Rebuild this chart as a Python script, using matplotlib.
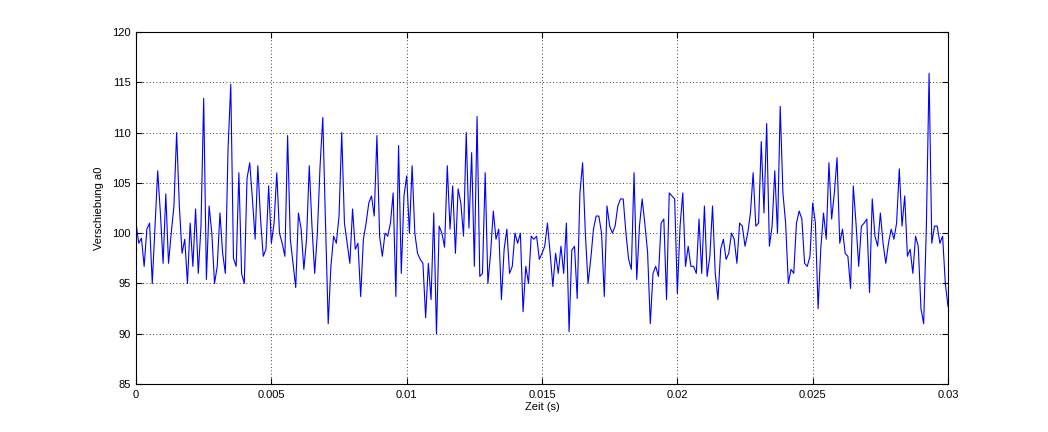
import numpy as np
import matplotlib
matplotlib.use('Agg')
import matplotlib.pyplot as plt

# DATA
# ----
# Sample spacing of the read-off series (s)
dt = 0.0001

# Verschiebung a0 in eight chunks
a0_part1 = [101, 99, 99.5, 96.7, 100.4, 101, 95, 100.7, 106.2, 102,
            97, 103.9, 97, 100, 102.7, 110, 102.7, 98, 99.4, 95,
            101, 96.7, 102.4, 96, 100.7, 113.4, 95.4, 102.7, 100, 95,
            96.7, 102, 98, 96, 108.4, 114.8, 97.5, 96.7]
a0_part2 = [106, 96, 95, 105.4, 107, 103.4, 99.4, 106.7, 101.4, 97.7,
            98.4, 104.7, 99, 101, 106, 100, 99, 97.7, 109.7, 99.4,
            97, 94.6, 102, 100.4, 96.4, 99.4, 106.7, 100.7, 96, 100,
            106.7, 111.5, 101, 91, 96.7, 99.7, 99, 101.7]
a0_part3 = [110, 101, 99, 97, 102.4, 98.4, 99, 93.7, 99.4, 101,
            103, 103.7, 101.7, 109.7, 99.7, 97.7, 100, 99.7, 101, 104,
            93.7, 108.7, 96, 103.7, 105.7, 100, 106.7, 100, 98, 97.4,
            97, 91.6, 97, 93.4, 102, 90, 100.7]
a0_part4 = [100, 98.6, 106.7, 100.4, 104.7, 98, 104.4, 103, 99.7, 110,
            100.5, 108, 96.7, 111.6, 95.7, 96, 106, 95, 98, 102.2,
            99.4, 100.4, 93.4, 98.4, 100.4, 96, 96.7, 100, 99, 100,
            92.2, 96.7, 95, 99.7, 99.4, 99.7, 97.4, 98]
a0_part5 = [98.7, 101, 98, 94.7, 98, 96, 98.7, 96, 101, 90.2,
            98.3, 98.7, 93.5, 104, 107, 100, 95, 97.4, 100.4, 101.7,
            101.7, 100, 93.7, 102.7, 100.7, 100, 100.7, 102.7, 103.4, 103.4,
            100, 97.4, 96.4, 106, 95.4, 100.7, 103.4, 100.9]
a0_part6 = [98.1, 91, 96, 96.7, 95.7, 101, 101.4, 93.4, 104, 103.7,
            103.4, 94, 100.7, 104, 96.7, 98.7, 96.7, 96.7, 96, 101.4,
            96, 102.7, 95.7, 97.7, 102.7, 96, 93.4, 98.4, 99.4, 97.4,
            98, 100, 99.4, 97, 101, 100.7, 98.7, 100]
a0_part7 = [102, 106, 100.7, 101, 109.1, 102, 110.9, 98.7, 100.7, 106.2,
            100, 112.6, 104, 101, 95, 96.4, 96, 101, 102.2, 101.4,
            97, 96.7, 97.7, 103, 101, 92.5, 98.5, 102, 99.4, 107,
            101.4, 104, 107.5, 99, 100.4, 98, 97.7]
a0_part8 = [94.5, 104.7, 101, 96.7, 100.7, 101, 101.4, 94.1, 103.4, 99.7,
            98.7, 102, 99, 97, 99, 100.4, 99.4, 101, 106.4, 100.7,
            103.7, 97.7, 98.4, 96, 99.7, 98.7, 92.5, 91, 100.7, 115.9,
            99, 100.7, 100.7, 99, 99.7, 95, 92.7]

a0 = np.array(a0_part1 + a0_part2 + a0_part3 + a0_part4
              + a0_part5 + a0_part6 + a0_part7 + a0_part8)
zeit = np.arange(len(a0)) * dt

x_ticks = [0, 0.005, 0.01, 0.015, 0.02, 0.025, 0.03]
x_tick_labels = ['0', '0.005', '0.01', '0.015', '0.02', '0.025', '0.03']
y_ticks = [85, 90, 95, 100, 105, 110, 115, 120]

# PLOT
# ----
plt.rcParams['font.family'] = ['Liberation Sans', 'DejaVu Sans']
plt.rcParams['font.size'] = 8

fig = plt.figure(figsize=(10.48, 4.32), dpi=100)
ax = fig.add_axes([0.1298, 0.111, 0.7748, 0.815])

ax.plot(zeit, a0, color='#0000FF', linewidth=0.8)

ax.set_xlim(0, 0.03)
ax.set_ylim(85, 120)
ax.set_xticks(x_ticks)
ax.set_xticklabels(x_tick_labels)
ax.set_yticks(y_ticks)

# MATLAB look: inward ticks on all sides, dotted black grid
ax.tick_params(direction='in', length=4, width=0.8, top=True, right=True,
               labelsize=8, pad=4)
ax.grid(True, linestyle=(0, (1, 3)), color='black', linewidth=0.6)
for spine in ax.spines.values():
    spine.set_linewidth(0.8)

ax.set_xlabel('Zeit (s)', fontsize=8, labelpad=2)
ax.set_ylabel('Verschiebung a0', fontsize=8, labelpad=6)

fig.savefig('out.png', dpi=100)
